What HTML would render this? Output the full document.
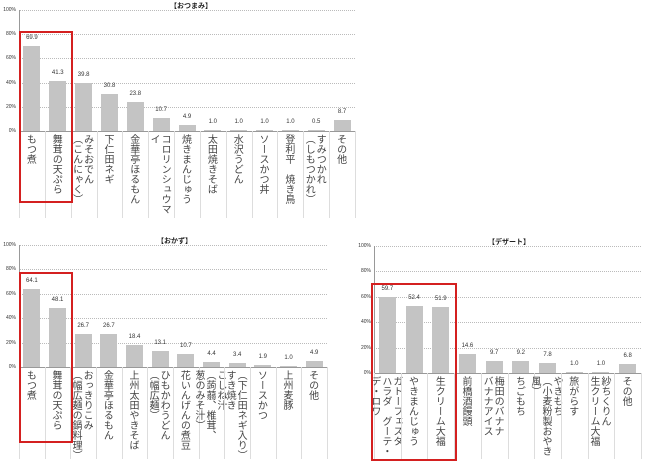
<!DOCTYPE html>
<html><head><meta charset="utf-8">
<style>
body{margin:0;width:650px;height:459px;background:#fff;position:relative;overflow:hidden;font-family:"Liberation Sans","Noto Sans CJK JP",sans-serif;}
.a{position:absolute}
.grid{position:absolute;height:0;border-top:1px dotted #bbb}
.tick{position:absolute;font-size:5px;color:#333;text-align:right;width:16px}
.bar{position:absolute;background:#c4c4c4}
.val{position:absolute;font-size:6px;color:#333;text-align:center;width:30px}
.sep{position:absolute;width:0;border-left:1px solid #ddd}
.lab{position:absolute;writing-mode:vertical-rl;font-size:10px;line-height:11px;color:#444;white-space:nowrap;font-family:"Noto Sans CJK JP",sans-serif}
.title{position:absolute;font-size:7px;color:#222;font-weight:bold;font-family:"Noto Sans CJK JP",sans-serif}
.box{position:absolute;border:2px solid #d42020;box-sizing:border-box}
</style></head><body>
<script>
var root=document.body;
function add(cls,st,txt){var d=document.createElement('div');d.className=cls;for(var k in st)d.style[k]=st[k]+(typeof st[k]=='number'?'px':'');if(txt!=null)d.innerHTML=txt;root.appendChild(d);return d;}
function chart(o){
  var h=o.y0-o.y100;
  for(var i=0;i<=5;i++){var y=o.y0-h*i/5;
    add('grid',{left:o.x0,top:Math.round(y),width:o.x1-o.x0});
    add('tick',{left:o.x0-19,top:Math.round(y)-3},(i*20)+'%');}
  add('a',{left:o.x0,top:o.y100,width:1,height:o.y0-o.y100,background:'#999'});
  add('a',{left:o.x0,top:o.y0,width:o.x1-o.x0,height:1,background:'#999'});
  var n=o.d.length,w=(o.x1-o.x0)/n;
  for(var i=0;i<n;i++){var cx=o.x0+w*(i+.5),v=o.d[i][1],bh=h*v/100;
    add('bar',{left:Math.round(cx-o.bw/2),top:Math.round(o.y0-bh),width:o.bw,height:Math.round(bh)});
    add('val',{left:cx-15,top:Math.round(o.y0-bh)-11},v.toFixed(1));
    add('sep',{left:Math.round(o.x0+w*i),top:o.y0,height:o.sb-o.y0});
    var L=add('lab',{top:o.y0+3},o.d[i][0]);
    L.style.left=(cx-L.offsetWidth/2)+'px';
  }
  add('sep',{left:Math.round(o.x1),top:o.y0,height:o.sb-o.y0});
  add('title',{left:o.tx,top:o.y100-9},o.t);
  add('box',{left:o.bx[0],top:o.bx[1],width:o.bx[2],height:o.bx[3]});
}
chart({x0:19,x1:355,y100:10,y0:131,bw:17,sb:218,tx:170,t:'【おつまみ】',bx:[19,31,54,172],
d:[['もつ煮',69.9],['舞茸の天ぷら',41.3],['みそおでん<br>（こんにゃく）',39.8],['下仁田ネギ',30.8],['金華亭ほるもん',23.8],['コロリンシュウマ<br>イ',10.7],['焼きまんじゅう',4.9],['太田焼きそば',1.0],['水沢うどん',1.0],['ソースかつ丼',1.0],['登利平　焼き鳥',1.0],['すみつかれ<br>（しもつかれ）',0.5],['その他',8.7]]});
chart({x0:19,x1:327,y100:245,y0:367,bw:17,sb:459,tx:157,t:'【おかず】',bx:[19,272,54,171],
d:[['もつ煮',64.1],['舞茸の天ぷら',48.1],['おっきりこみ<br>（幅広麺の鍋料理）',26.7],['金華亭ほるもん',26.7],['上州太田やきそば',18.4],['ひもかわうどん<br>（幅広麺）',13.1],['花いんげんの煮豆',10.7],['こしね汁<br>（蒟蒻、椎茸、<br>葱のみそ汁）',4.4],['（下仁田ネギ入り）<br>すき焼き',3.4],['ソースかつ',1.9],['上州麦豚',1.0],['その他',4.9]]});
chart({x0:374,x1:641,y100:246,y0:373,bw:17,sb:459,tx:488,t:'【デザート】',bx:[371,283,86,178],
d:[['ガトーフェスタ<br>ハラダ　グーテ・<br>デ・ロワ',59.7],['やきまんじゅう',52.4],['生クリーム大福',51.9],['前橋酒饅頭',14.6],['梅田のバナナ<br>バナナアイス',9.7],['ちごもち',9.2],['やきもち<br>（小麦粉製おやき<br>風）',7.8],['旅がらす',1.0],['紗ちくりん<br>生クリーム大福',1.0],['その他',6.8]]});
</script>
</body></html>
